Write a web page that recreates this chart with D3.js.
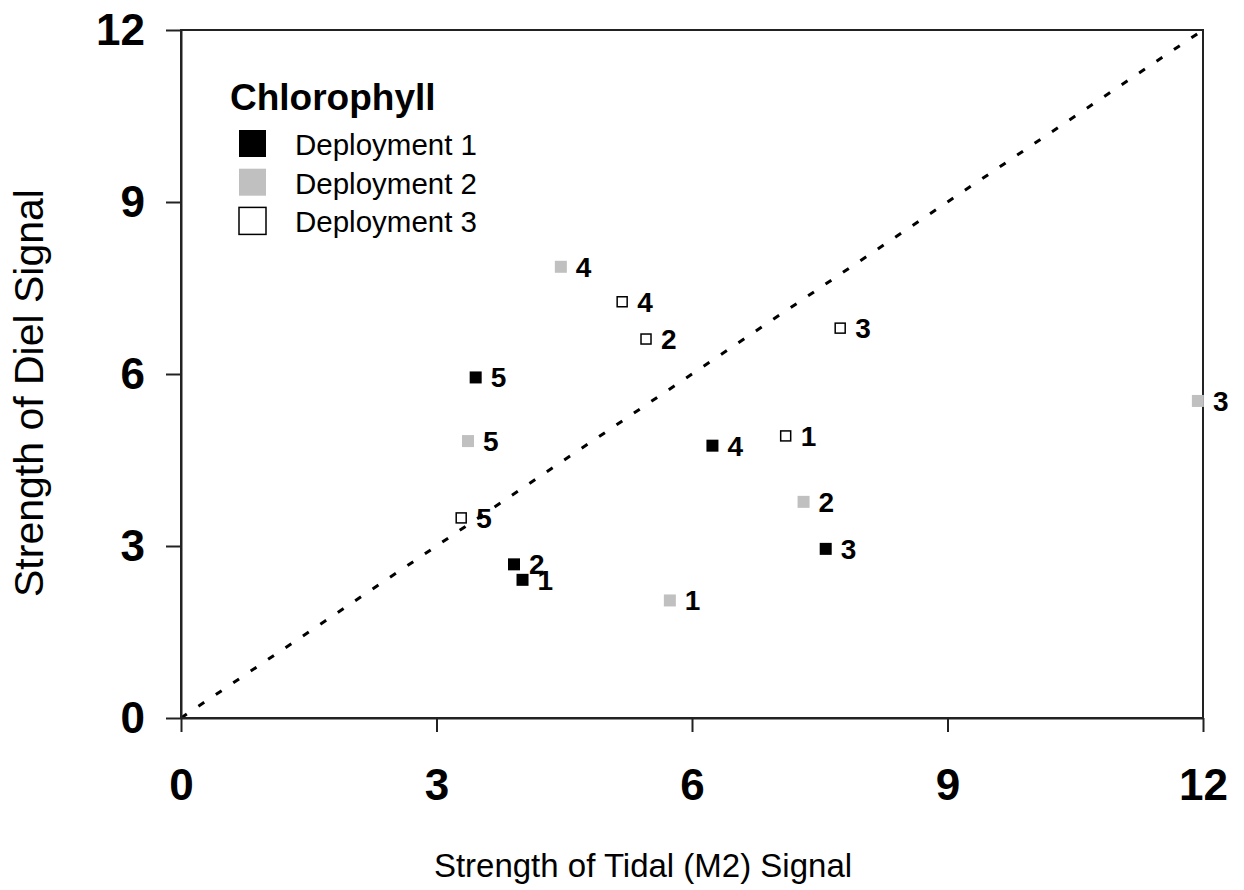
<!DOCTYPE html>
<html>
<head>
<meta charset="utf-8">
<script src="https://cdn.jsdelivr.net/npm/d3@7"></script>
<style>
  html, body { margin: 0; padding: 0; background: #fff; }
  svg { display: block; font-family: "Liberation Sans", Arial, sans-serif; }
</style>
</head>
<body>
<svg id="chart" width="1244" height="890"></svg>
<script>
// Tidal vs. diel signal strength for chlorophyll, three deployments, five sites each
const siteLabels = ["1", "2", "3", "4", "5"];
const deployment1Tidal = [4.01, 3.91, 7.57, 6.24, 3.46];
const deployment1Diel  = [2.41, 2.68, 2.95, 4.75, 5.94];
const deployment2Tidal = [5.74, 7.31, 11.94, 4.46, 3.37];
const deployment2Diel  = [2.05, 3.77, 5.53, 7.87, 4.83];
const deployment3Tidal = [7.10, 5.46, 7.74, 5.18, 3.29];
const deployment3Diel  = [4.92, 6.61, 6.80, 7.26, 3.49];
const seriesNames = ["Deployment 1", "Deployment 2", "Deployment 3"];
const xTicks = [0, 3, 6, 9, 12];
const yTicks = [0, 3, 6, 9, 12];
const axisRange = [0, 12];

const series = [
  { name: seriesNames[0], tidal: deployment1Tidal, diel: deployment1Diel, fill: "#000000", stroke: "none" },
  { name: seriesNames[1], tidal: deployment2Tidal, diel: deployment2Diel, fill: "#c0c0c0", stroke: "none" },
  { name: seriesNames[2], tidal: deployment3Tidal, diel: deployment3Diel, fill: "#ffffff", stroke: "#000000" }
];

const svg = d3.select("#chart");
const margin = { left: 181, top: 30, right: 41, bottom: 172 };
const W = 1244 - margin.left - margin.right;
const H = 890 - margin.top - margin.bottom;

const x = d3.scaleLinear().domain(axisRange).range([0, W]);
const y = d3.scaleLinear().domain(axisRange).range([H, 0]);

const g = svg.append("g").attr("transform", `translate(${margin.left},${margin.top})`);

// 1:1 reference line
g.append("line")
  .attr("x1", x(axisRange[0])).attr("y1", y(axisRange[0]))
  .attr("x2", x(axisRange[1])).attr("y2", y(axisRange[1]))
  .attr("stroke", "#000").attr("stroke-width", 3)
  .attr("stroke-dasharray", "7 14");

// plot frame
g.append("rect")
  .attr("x", 0).attr("y", 0).attr("width", W).attr("height", H)
  .attr("fill", "none").attr("stroke", "#222").attr("stroke-width", 2);

// axes
const xAxis = g.append("g").attr("transform", `translate(0,${H})`)
  .call(d3.axisBottom(x).tickValues(xTicks).tickSize(14).tickSizeOuter(0).tickPadding(37).tickFormat(d3.format("d")));
const yAxis = g.append("g")
  .call(d3.axisLeft(y).tickValues(yTicks).tickSize(15).tickSizeOuter(0).tickPadding(21).tickFormat(d3.format("d")));

[xAxis, yAxis].forEach(a => {
  a.select(".domain").attr("stroke", "#222").attr("stroke-width", 2);
  a.selectAll(".tick line").attr("stroke", "#222").attr("stroke-width", 2);
  a.selectAll(".tick text")
    .attr("fill", "#000")
    .style("font-family", "'Liberation Sans', Arial, sans-serif")
    .style("font-size", "44px")
    .style("font-weight", "bold");
});

// axis titles
svg.append("text")
  .attr("x", 643).attr("y", 877)
  .attr("text-anchor", "middle")
  .style("font-size", "33px")
  .text("Strength of Tidal (M2) Signal");

svg.append("text")
  .attr("transform", "translate(43,393) rotate(-90)")
  .attr("text-anchor", "middle")
  .style("font-size", "41px")
  .text("Strength of Diel Signal");

// markers and site labels
series.forEach((s, si) => {
  const pts = s.tidal.map((t, i) => ({ t, d: s.diel[i], label: siteLabels[i] }));
  const grp = g.append("g").attr("class", "series-" + (si + 1));
  const size = s.stroke === "none" ? 12 : 10;
  grp.selectAll("rect").data(pts).join("rect")
    .attr("x", p => x(p.t) - size / 2)
    .attr("y", p => y(p.d) - size / 2)
    .attr("width", size).attr("height", size)
    .attr("fill", s.fill)
    .attr("stroke", s.stroke)
    .attr("stroke-width", s.stroke === "none" ? 0 : 1.5);
  grp.selectAll("text").data(pts).join("text")
    .attr("x", p => x(p.t) + 15)
    .attr("y", p => y(p.d) + 10)
    .style("font-size", "28px")
    .style("font-weight", "bold")
    .text(p => p.label);
});

// legend
const legend = svg.append("g");
legend.append("text")
  .attr("x", 230).attr("y", 110)
  .style("font-size", "37px")
  .style("font-weight", "bold")
  .text("Chlorophyll");
series.forEach((s, i) => {
  const rowY = 130 + i * 38.7;
  legend.append("rect")
    .attr("x", 239).attr("y", rowY)
    .attr("width", 27).attr("height", 27)
    .attr("fill", s.fill)
    .attr("stroke", s.stroke === "none" ? "none" : "#000")
    .attr("stroke-width", 1.5);
  legend.append("text")
    .attr("x", 295).attr("y", rowY + 25)
    .style("font-size", "29.5px")
    .text(s.name);
});
</script>
</body>
</html>
